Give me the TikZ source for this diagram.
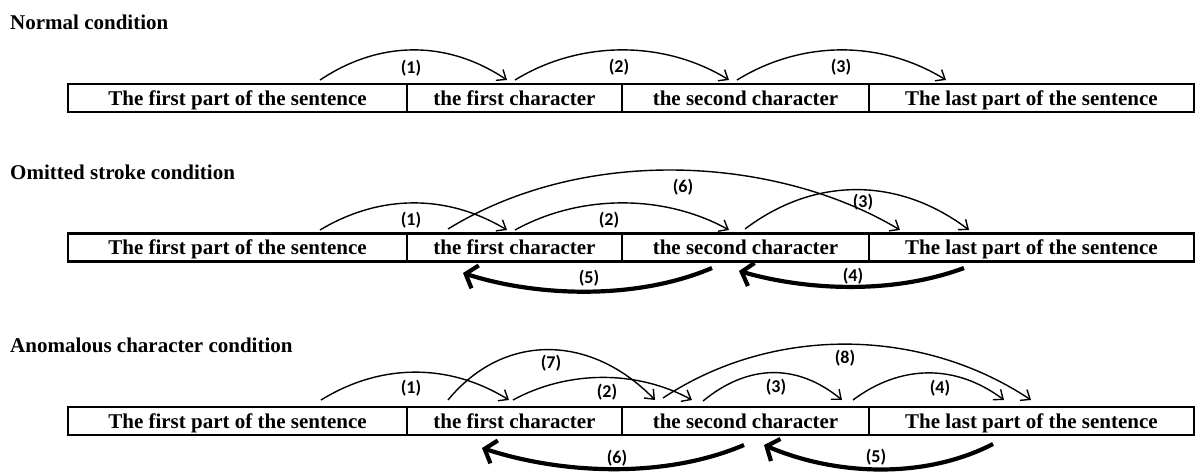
\documentclass[tikz,border=0pt]{standalone}
\usepackage{fontspec}
\setmainfont{Liberation Serif}
\newfontfamily\lblfont{Carlito}
\usetikzlibrary{arrows.meta}
\begin{document}
\begin{tikzpicture}[x=1pt,y=-1pt,
  cell/.style={draw, line width=2.5pt, minimum height=28pt, inner sep=0pt,
    text height=14pt, text depth=0pt, font=\fontsize{21}{24}\selectfont\bfseries},
  ttl/.style={anchor=base west, inner sep=0pt, font=\fontsize{21}{24}\selectfont\bfseries},
  lbl/.style={inner sep=0pt, font=\fontsize{18}{20}\selectfont\lblfont\bfseries},
  thinarr/.style={line width=1.4pt, -{Straight Barb[length=8pt,width=13pt]}},
  thickarr/.style={line width=4.2pt, -{Straight Barb[length=10pt,width=24pt]}},
]
\useasboundingbox (0,0) rectangle (1197,474);

% ---------- titles ----------
\node[ttl] (t1) at (10,29) {Normal condition};
\node[ttl] (t2) at (10,179) {Omitted stroke condition};
\node[ttl] (t3) at (10,352) {Anomalous character condition};

% ---------- row 1 ----------
\node[cell, minimum width=339pt] (a1) at (237.5,98) {The first part of the sentence};
\node[cell, minimum width=215pt] (a2) at (514.5,98) {the first character};
\node[cell, minimum width=247pt] (a3) at (745.5,98) {the second character};
\node[cell, minimum width=325pt] (a4) at (1031.5,98) {The last part of the sentence};

\coordinate (a1s) at (320,80);  \coordinate (a1e) at (507,80);
\coordinate (a2s) at (515,80);  \coordinate (a2e) at (729,80);
\coordinate (a3s) at (737,80);  \coordinate (a3e) at (946,80);
\draw[thinarr] (a1s) .. controls +(60,-40) and +(-60,-40) .. (a1e);
\draw[thinarr] (a2s) .. controls +(65,-40) and +(-65,-40) .. (a2e);
\draw[thinarr] (a3s) .. controls +(65,-40) and +(-65,-40) .. (a3e);
\node[lbl] (la1) at (411,68) {(1)};
\node[lbl] (la2) at (619,67) {(2)};
\node[lbl] (la3) at (841,67) {(3)};

% ---------- row 2 ----------
\node[cell, minimum width=339pt] (b1) at (237.5,247.5) {The first part of the sentence};
\node[cell, minimum width=215pt] (b2) at (514.5,247.5) {the first character};
\node[cell, minimum width=247pt] (b3) at (745.5,247.5) {the second character};
\node[cell, minimum width=325pt] (b4) at (1031.5,247.5) {The last part of the sentence};

\coordinate (b1s) at (320,230);  \coordinate (b1e) at (507,230);
\coordinate (b6s) at (448,229);  \coordinate (b6e) at (900,230);
\coordinate (b2s) at (515,230);  \coordinate (b2e) at (729,230);
\coordinate (b3s) at (745,229);  \coordinate (b3e) at (969,230);
\coordinate (b4s) at (964,268);  \coordinate (b4e) at (739,271);
\coordinate (b5s) at (712,268);  \coordinate (b5e) at (463,273);
\draw[thinarr] (b1s) .. controls +(60,-36) and +(-60,-36) .. (b1e);
\draw[thinarr] (b6s) .. controls +(140,-86) and +(-120,-72) .. (b6e);
\draw[thinarr] (b2s) .. controls +(65,-36) and +(-65,-36) .. (b2e);
\draw[thinarr] (b3s) .. controls +(70,-53) and +(-70,-53) .. (b3e);
\draw[thickarr] (b4s) .. controls +(-70,26) and +(70,20) .. (b4e);
\draw[thickarr] (b5s) .. controls +(-75,32) and +(75,24) .. (b5e);
\node[lbl] (lb1) at (411,220) {(1)};
\node[lbl] (lb2) at (609,220) {(2)};
\node[lbl] (lb6) at (683,187) {(6)};
\node[lbl] (lb3) at (863,202) {(3)};
\node[lbl] (lb4) at (853,276) {(4)};
\node[lbl] (lb5) at (589,278) {(5)};

% ---------- row 3 ----------
\node[cell, minimum width=339pt] (c1) at (237.5,421) {The first part of the sentence};
\node[cell, minimum width=215pt] (c2) at (514.5,421) {the first character};
\node[cell, minimum width=247pt] (c3) at (745.5,421) {the second character};
\node[cell, minimum width=325pt] (c4) at (1031.5,421) {The last part of the sentence};

\coordinate (c1s) at (321,400);  \coordinate (c1e) at (509,400);
\coordinate (c7s) at (448,400);  \coordinate (c7e) at (655,400);
\coordinate (c2s) at (513,400);  \coordinate (c2e) at (692,400);
\coordinate (c8s) at (663,398);  \coordinate (c8e) at (1031,400);
\coordinate (c3s) at (703,401);  \coordinate (c3e) at (842,400);
\coordinate (c4s) at (853,400);  \coordinate (c4e) at (1004,400);
\coordinate (c5s) at (993,444);  \coordinate (c5e) at (764,445);
\coordinate (c6s) at (744,445);  \coordinate (c6e) at (482,448);
\draw[thinarr] (c1s) .. controls +(60,-37) and +(-60,-37) .. (c1e);
\draw[thinarr] (c7s) .. controls +(55,-67) and +(-65,-67) .. (c7e);
\draw[thinarr] (c2s) .. controls +(55,-30) and +(-55,-30) .. (c2e);
\draw[thinarr] (c8s) .. controls +(110,-73) and +(-110,-73) .. (c8e);
\draw[thinarr] (c3s) .. controls +(45,-37) and +(-45,-37) .. (c3e);
\draw[thinarr] (c4s) .. controls +(48,-36) and +(-48,-36) .. (c4e);
\draw[thickarr] (c5s) .. controls +(-70,36) and +(70,30) .. (c5e);
\draw[thickarr] (c6s) .. controls +(-80,34) and +(80,26) .. (c6e);
\node[lbl] (lc1) at (411,388) {(1)};
\node[lbl] (lc7) at (551,363) {(7)};
\node[lbl] (lc2) at (607,392) {(2)};
\node[lbl] (lc8) at (845,358) {(8)};
\node[lbl] (lc3) at (776,387) {(3)};
\node[lbl] (lc4) at (940,388) {(4)};
\node[lbl] (lc5) at (876,457) {(5)};
\node[lbl] (lc6) at (617,458) {(6)};
\end{tikzpicture}
\end{document}
